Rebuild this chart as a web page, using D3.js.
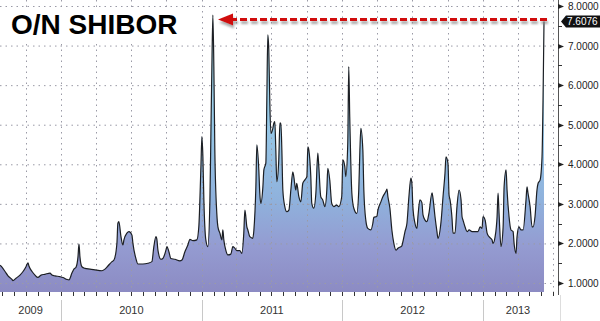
<!DOCTYPE html>
<html><head><meta charset="utf-8">
<script src="https://cdn.jsdelivr.net/npm/d3@7"></script>
<style>html,body{margin:0;padding:0;background:#fff;} svg{display:block;}</style>
</head><body><svg id="c" width="600" height="321"></svg>
<script>
// ---- data (time as fractional year, O/N SHIBOR in %) ----
const tYear = [2009.565,2009.579,2009.601,2009.622,2009.650,2009.657,2009.679,2009.707,2009.729,2009.750,2009.764,2009.771,2009.793,2009.814,2009.835,2009.857,2009.885,2009.921,2009.935,2009.956,2009.992,2010.013,2010.042,2010.056,2010.077,2010.091,2010.106,2010.120,2010.127,2010.134,2010.148,2010.170,2010.205,2010.241,2010.291,2010.312,2010.333,2010.362,2010.376,2010.397,2010.404,2010.411,2010.426,2010.440,2010.447,2010.468,2010.483,2010.504,2010.511,2010.532,2010.547,2010.582,2010.618,2010.646,2010.660,2010.675,2010.682,2010.689,2010.710,2010.724,2010.746,2010.753,2010.767,2010.781,2010.810,2010.845,2010.860,2010.881,2010.902,2010.916,2010.938,2010.966,2010.980,2010.995,2011.002,2011.009,2011.016,2011.030,2011.044,2011.059,2011.066,2011.073,2011.080,2011.087,2011.094,2011.108,2011.116,2011.130,2011.144,2011.151,2011.158,2011.172,2011.187,2011.208,2011.222,2011.236,2011.251,2011.272,2011.286,2011.300,2011.308,2011.322,2011.329,2011.343,2011.364,2011.372,2011.386,2011.393,2011.407,2011.414,2011.421,2011.436,2011.443,2011.457,2011.464,2011.471,2011.478,2011.485,2011.493,2011.507,2011.514,2011.521,2011.528,2011.535,2011.549,2011.557,2011.564,2011.571,2011.578,2011.592,2011.606,2011.621,2011.635,2011.649,2011.656,2011.670,2011.677,2011.692,2011.706,2011.720,2011.734,2011.749,2011.756,2011.763,2011.777,2011.784,2011.798,2011.813,2011.827,2011.834,2011.848,2011.862,2011.877,2011.891,2011.898,2011.912,2011.926,2011.941,2011.962,2011.976,2011.997,2012.005,2012.019,2012.026,2012.040,2012.047,2012.054,2012.069,2012.083,2012.104,2012.118,2012.126,2012.133,2012.147,2012.154,2012.168,2012.182,2012.204,2012.218,2012.225,2012.246,2012.254,2012.275,2012.289,2012.310,2012.318,2012.325,2012.339,2012.353,2012.367,2012.382,2012.396,2012.424,2012.431,2012.446,2012.460,2012.474,2012.488,2012.495,2012.502,2012.517,2012.531,2012.538,2012.552,2012.566,2012.574,2012.588,2012.602,2012.616,2012.638,2012.645,2012.659,2012.673,2012.680,2012.702,2012.716,2012.730,2012.737,2012.751,2012.759,2012.766,2012.780,2012.787,2012.801,2012.815,2012.830,2012.844,2012.851,2012.858,2012.872,2012.887,2012.901,2012.922,2012.943,2012.965,2012.979,2012.993,2013.000,2013.015,2013.029,2013.043,2013.064,2013.071,2013.086,2013.100,2013.107,2013.114,2013.128,2013.143,2013.150,2013.164,2013.171,2013.185,2013.199,2013.214,2013.221,2013.235,2013.242,2013.256,2013.271,2013.285,2013.306,2013.313,2013.320,2013.335,2013.349,2013.356,2013.370,2013.384,2013.392,2013.406,2013.420,2013.427,2013.434];
const shibor = [1.45,1.40,1.29,1.18,1.09,1.06,1.12,1.20,1.29,1.41,1.51,1.43,1.29,1.20,1.14,1.20,1.22,1.25,1.20,1.18,1.16,1.14,1.09,1.08,1.25,1.35,1.40,1.66,1.98,1.66,1.41,1.37,1.35,1.33,1.31,1.35,1.43,1.54,1.58,2.00,2.51,2.55,2.17,1.96,2.09,2.26,2.30,2.21,2.00,1.62,1.48,1.48,1.50,1.54,1.92,2.17,2.09,1.83,1.60,1.62,1.83,1.92,1.79,1.62,1.60,1.56,1.58,1.79,1.96,2.10,2.07,2.09,2.42,3.94,4.70,4.19,3.10,2.09,1.92,3.10,4.78,6.47,7.77,6.47,4.36,2.76,2.42,2.26,2.09,2.34,2.09,1.83,1.71,1.73,1.92,1.88,1.82,1.82,1.75,2.26,2.84,2.42,2.34,2.17,2.13,2.34,3.43,4.49,3.86,3.27,3.01,3.43,3.86,4.03,5.62,7.27,6.89,5.62,4.78,4.91,5.04,5.08,4.36,3.56,4.11,5.04,5.04,4.36,3.35,2.93,2.80,2.84,3.35,3.81,3.69,3.35,3.52,3.18,3.05,3.52,3.60,3.69,4.44,4.36,3.69,3.01,2.89,3.27,4.28,3.94,3.18,3.10,2.93,3.35,3.90,3.60,3.01,2.93,2.97,2.93,3.18,4.11,3.94,3.69,4.53,6.47,5.20,3.27,2.89,2.76,3.35,4.36,4.91,4.36,3.35,2.59,2.38,2.34,2.51,2.66,2.68,2.84,3.05,3.18,3.31,3.37,3.18,2.89,2.34,2.00,1.83,1.88,1.94,2.04,2.30,2.51,3.18,3.65,3.52,2.93,2.51,2.38,2.68,3.10,3.03,2.72,2.59,2.55,2.76,3.28,3.14,2.68,2.30,2.13,2.55,3.18,3.77,4.19,4.03,3.22,3.10,2.63,2.26,2.26,2.93,3.35,3.10,2.68,2.59,2.42,2.30,2.34,2.30,2.30,2.30,2.42,2.38,2.68,2.59,2.26,2.17,2.09,2.00,2.17,2.68,3.27,2.76,1.92,2.42,3.43,3.86,3.35,2.68,2.34,2.30,2.00,1.75,2.17,2.42,2.34,2.34,3.10,3.43,3.27,2.93,2.42,2.42,2.68,3.35,3.52,3.60,4.19,5.62,7.6076];
const yearLabels = ["2009","2010","2011","2012","2013"];
const valueTicks = [1,2,3,4,5,6,7,8];
const title = "O/N SHIBOR";
const lastLabel = "7.6076";

// ---- layout ----
const W = 600, H = 321;
const plotR = 553, plotB = 292, axisX = 558;
function dy(t){const y=Math.floor(t);const s=new Date(y,0,1),e=new Date(y+1,0,1);return new Date(+s+(t-y)*(e-s));}
const data = tYear.map((t,i)=>({d:dy(t),v:shibor[i]}));
const x = d3.scaleTime().domain([dy(2009.565), dy(2013.498)]).range([0, plotR]);
const y = d3.scaleLinear().domain([1,8]).range([283,6]);

const svg = d3.select("#c");
const defs = svg.append("defs");
const g = defs.append("linearGradient").attr("id","fillg").attr("gradientUnits","userSpaceOnUse")
  .attr("x1",0).attr("x2",0).attr("y1",10).attr("y2",plotB);
[[0,"#b0e6f1"],[0.4,"#96c8e7"],[0.68,"#8fb1dc"],[0.84,"#949bd1"],[1,"#8c8bc3"]].forEach(s=>
  g.append("stop").attr("offset",s[0]).attr("stop-color",s[1]));
const f = defs.append("filter").attr("id","sh").attr("x","-10%").attr("y","-100%").attr("width","120%").attr("height","400%");
f.append("feDropShadow").attr("dx",1).attr("dy",3).attr("stdDeviation",1.2).attr("flood-color","#888").attr("flood-opacity",0.7);

// area
svg.append("path").datum(data)
  .attr("d", d3.area().x(d=>x(d.d)).y0(plotB).y1(d=>y(d.v)).curve(d3.curveMonotoneX))
  .attr("fill","url(#fillg)");

// gridlines
const grid = svg.append("g").attr("stroke","#9a9aa6").attr("stroke-width",1).attr("stroke-dasharray","1.5,4");
valueTicks.forEach(v=>grid.append("line").attr("x1",0).attr("x2",plotR).attr("y1",y(v)+0.5).attr("y2",y(v)+0.5));
x.ticks(d3.timeMonth.every(3)).forEach(d=>grid.append("line").attr("x1",Math.round(x(d))+0.5).attr("x2",Math.round(x(d))+0.5).attr("y1",0).attr("y2",plotB));

// line
svg.append("path").datum(data)
  .attr("d", d3.line().x(d=>x(d.d)).y(d=>y(d.v)).curve(d3.curveMonotoneX))
  .attr("fill","none").attr("stroke","#1c1f24").attr("stroke-width",1.2);

// title
svg.append("rect").attr("x",0).attr("y",7).attr("width",196).attr("height",37).attr("fill","#fff");
svg.append("text").attr("x",11).attr("y",34).text(title)
  .attr("font-family","Liberation Sans, Arial, sans-serif").attr("font-weight","bold").attr("font-size",28).attr("fill","#000");

// red dashed arrow to the last value
const lastY = y(shibor[shibor.length-1]) - 2;
const endX = x(data[data.length-1].d) + 3;
const arr = svg.append("g").attr("filter","url(#sh)");
arr.append("line").attr("x1",endX).attr("x2",232).attr("y1",lastY).attr("y2",lastY)
  .attr("stroke","#d01010").attr("stroke-width",3).attr("stroke-dasharray","7,3");
arr.append("path").attr("d",`M218,${lastY} L233,${lastY-6} L233,${lastY+6} Z`).attr("fill","#d01010");

// bottom axis: monthly ticks, year separators, labels
const bt = svg.append("g").attr("stroke","#333");
x.ticks(d3.timeMonth.every(1)).forEach(d=>bt.append("line").attr("x1",Math.round(x(d))+0.5).attr("x2",Math.round(x(d))+0.5).attr("y1",plotB).attr("y2",plotB+4));
const yrs = x.ticks(d3.timeYear.every(1));
yrs.forEach(d=>svg.append("line").attr("x1",Math.round(x(d))+0.5).attr("x2",Math.round(x(d))+0.5).attr("y1",300).attr("y2",H).attr("stroke","#c8c8c8"));
yearLabels.forEach(lbl=>{
  const yr=+lbl; const a=Math.max(0,x(new Date(yr,0,1))), b=Math.min(plotR,x(new Date(yr+1,0,1)));
  svg.append("text").attr("x",(a+b)/2).attr("y",314).attr("text-anchor","middle").text(lbl)
    .attr("font-family","Liberation Sans, Arial, sans-serif").attr("font-size",11).attr("fill","#333");
});

// right axis
svg.append("line").attr("x1",axisX+0.5).attr("x2",axisX+0.5).attr("y1",0).attr("y2",plotB+3).attr("stroke","#555");
svg.append("line").attr("x1",axisX+2.5).attr("x2",axisX+2.5).attr("y1",plotB+3).attr("y2",H).attr("stroke","#ddd");
const ax = svg.append("g");
d3.range(1,8.01,0.5).forEach(v=>{
  const yy=Math.round(y(v))+0.5;
  if (Number.isInteger(v)) {
    ax.append("path").attr("d",`M${axisX},${yy-2.5} L${axisX+6},${yy} L${axisX},${yy+2.5} Z`).attr("fill","#222");
    ax.append("line").attr("x1",axisX).attr("x2",axisX+3).attr("y1",yy).attr("y2",yy).attr("stroke","#222");
    ax.append("text").attr("x",568).attr("y",yy+3.5).text(d3.format(".4f")(v))
      .attr("font-family","Liberation Sans, Arial, sans-serif").attr("font-size",10).attr("fill","#222");
  } else {
    ax.append("line").attr("x1",axisX).attr("x2",axisX+4).attr("y1",yy).attr("y2",yy).attr("stroke","#333");
  }
});
// last value tag
const ly = y(shibor[shibor.length-1]);
svg.append("path").attr("d",`M${axisX+3},${ly} L${axisX+8},${ly-6} L600,${ly-6} L600,${ly+6} L${axisX+8},${ly+6} Z`).attr("fill","#111");
svg.append("text").attr("x",567).attr("y",ly+3.5).text(lastLabel)
  .attr("font-family","Liberation Sans, Arial, sans-serif").attr("font-size",10).attr("fill","#fff");
</script></body></html>
